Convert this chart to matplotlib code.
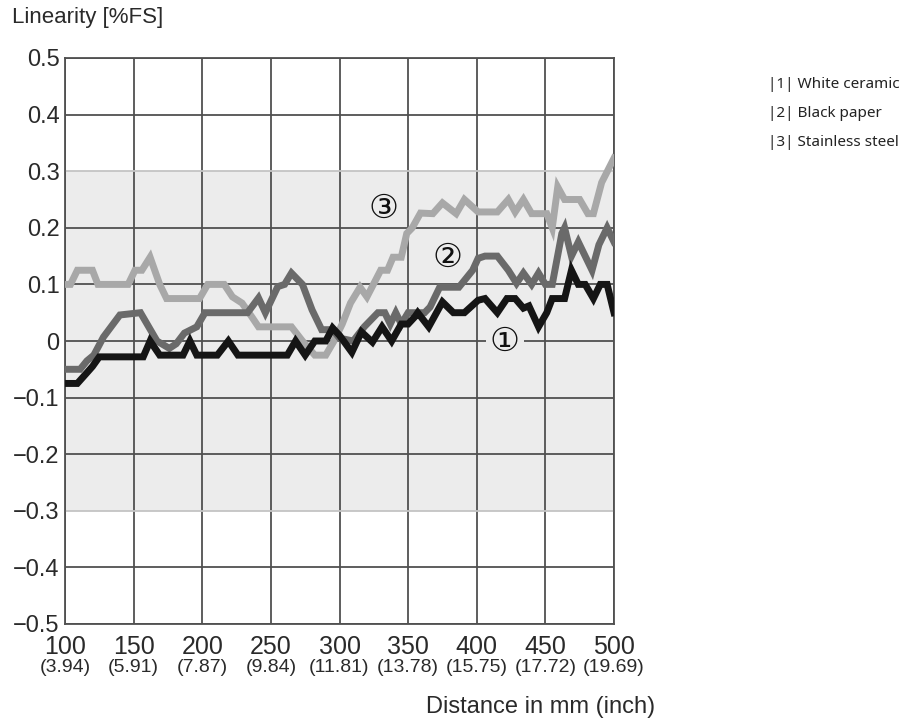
import matplotlib
matplotlib.use("Agg")
import matplotlib.pyplot as plt
import matplotlib.transforms as mtransforms

# ---- data ----
mm_ticks = [100, 150, 200, 250, 300, 350, 400, 450, 500]
inch_labels = ["(3.94)", "(5.91)", "(7.87)", "(9.84)", "(11.81)", "(13.78)",
               "(15.75)", "(17.72)", "(19.69)"]
y_ticks = [0.5, 0.4, 0.3, 0.2, 0.1, 0.0, -0.1, -0.2, -0.3, -0.4, -0.5]
y_tick_labels = ["0.5", "0.4", "0.3", "0.2", "0.1", "0", "\u22120.1", "\u22120.2",
                 "\u22120.3", "\u22120.4", "\u22120.5"]

legend_entries = ["|1| White ceramic", "|2| Black paper", "|3| Stainless steel"]

# |1| White ceramic (black)
s1_x = [100, 109, 116, 120, 125, 157, 162, 169, 186, 191, 196, 211, 219, 226,
        262, 268, 275, 282, 290, 295, 300, 309, 316, 324, 331, 338, 345, 350,
        355, 357, 365, 375, 383, 391, 401, 406, 415, 422, 428, 434, 438, 445,
        451, 455, 464, 469, 474, 479, 485, 490, 495, 500]
s1_y = [-0.075, -0.075, -0.056, -0.045, -0.028, -0.028, 0.0, -0.025, -0.025, 0.0,
        -0.025, -0.025, 0.0, -0.025, -0.025, 0.0, -0.025, 0.0, 0.0, 0.023, 0.01,
        -0.02, 0.016, -0.002, 0.025, 0.0, 0.03, 0.03, 0.043, 0.05, 0.025, 0.069,
        0.05, 0.05, 0.072, 0.075, 0.05, 0.075, 0.075, 0.058, 0.062, 0.025, 0.05,
        0.075, 0.075, 0.125, 0.1, 0.1, 0.075, 0.1, 0.1, 0.05]

# |2| Black paper (dark grey)
s2_x = [100, 111, 116, 121, 128, 140, 155, 167, 176, 181, 187, 196, 202, 233,
        241, 246, 255, 260, 265, 273, 280, 287, 295, 300, 310, 318, 328, 333,
        337, 341, 345, 350, 355, 362, 366, 373, 387, 393, 397, 401, 406, 415,
        423, 429, 434, 440, 445, 450, 455, 462, 464, 469, 474, 484, 489, 495,
        500]
s2_y = [-0.05, -0.05, -0.035, -0.025, 0.007, 0.046, 0.05, 0.0, -0.013, -0.005,
        0.014, 0.025, 0.05, 0.05, 0.076, 0.05, 0.096, 0.1, 0.12, 0.1, 0.055,
        0.02, 0.02, 0.005, 0.0, 0.025, 0.05, 0.05, 0.03, 0.05, 0.03, 0.05, 0.05,
        0.05, 0.06, 0.095, 0.095, 0.113, 0.125, 0.146, 0.15, 0.15, 0.125, 0.102,
        0.12, 0.1, 0.12, 0.1, 0.1, 0.19, 0.2, 0.15, 0.175, 0.125, 0.17, 0.2,
        0.175]

# |3| Stainless steel (light grey)
s3_x = [100, 104, 109, 120, 124, 146, 151, 156, 162, 169, 174, 198, 204, 216,
        222, 229, 236, 241, 265, 273, 282, 290, 296, 302, 308, 315, 320, 330,
        335, 339, 345, 349, 353, 359, 368, 375, 385, 391, 401, 415, 423, 428,
        434, 440, 451, 455, 459, 464, 475, 481, 485, 491, 500]
s3_y = [0.1, 0.1, 0.125, 0.125, 0.1, 0.1, 0.125, 0.125, 0.148, 0.1, 0.075, 0.075,
        0.1, 0.1, 0.078, 0.067, 0.043, 0.025, 0.025, 0.0, -0.025, -0.025, 0.0,
        0.03, 0.067, 0.095, 0.078, 0.125, 0.125, 0.148, 0.148, 0.19, 0.2, 0.226,
        0.225, 0.244, 0.225, 0.25, 0.228, 0.228, 0.25, 0.228, 0.25, 0.225, 0.225,
        0.2, 0.272, 0.25, 0.25, 0.225, 0.225, 0.28, 0.323]

# ---- figure ----
fig = plt.figure(figsize=(9.14, 7.25), dpi=100)
fig.patch.set_facecolor("white")
ax = fig.add_axes([65 / 914, 1 - 624 / 725, (614 - 65) / 914, (624 - 58) / 725])
ax.set_xlim(100, 500)
ax.set_ylim(-0.5, 0.5)

grid_c = "#505050"
band_c = "#ececec"
ax.axhspan(-0.3, 0.3, color=band_c, zorder=0, lw=0)
for v in mm_ticks:
    ax.axvline(v, color=grid_c, lw=1.3, zorder=1)
for v in y_ticks:
    c = "#c4c4c4" if abs(abs(v) - 0.3) < 1e-9 else grid_c
    ax.axhline(v, color=c, lw=1.3, zorder=1)

for sp in ax.spines.values():
    sp.set_color(grid_c)
    sp.set_linewidth(1.3)
    sp.set_zorder(1)

lw = 5.0
ax.plot(s3_x, s3_y, color="#a8a8a8", lw=lw, solid_joinstyle="miter", zorder=3)
ax.plot(s2_x, s2_y, color="#6a6a6a", lw=lw, solid_joinstyle="miter", zorder=4)
ax.plot(s1_x, s1_y, color="#151515", lw=lw, solid_joinstyle="miter", zorder=5)

tick_font = "Liberation Sans"
ax.set_yticks(y_ticks)
ax.set_yticklabels(y_tick_labels, fontsize=17, family=tick_font, color="#2a2a2a")
ax.set_xticks(mm_ticks)
ax.set_xticklabels([str(v) for v in mm_ticks], fontsize=18, family=tick_font,
                   color="#2a2a2a")
ax.tick_params(length=0)
ax.tick_params(axis="y", pad=4)
ax.tick_params(axis="x", pad=8)

trans = mtransforms.blended_transform_factory(ax.transData, ax.transAxes)
for v, lab in zip(mm_ticks, inch_labels):
    ax.text(v, -0.076, lab, transform=trans, ha="center", va="center",
            fontsize=14, family=tick_font, color="#2a2a2a")

fig.text(655 / 914, 1 - 707 / 725, "Distance in mm (inch)", ha="right", va="center",
         fontsize=17, family=tick_font, color="#2a2a2a")
fig.text(12 / 914, 1 - 18 / 725, "Linearity [%FS]", ha="left", va="center",
         fontsize=16, family=tick_font, color="#2a2a2a")

circ_fam = ["DejaVu Sans", "Noto Sans CJK JP"]
for txt, x, y in [("③", 332, 0.235), ("②", 379, 0.147), ("①", 420.5, 0.0)]:
    ax.text(x, y, txt, ha="center", va="center", fontsize=24, family=circ_fam,
            color="#111111", zorder=6,
            bbox=dict(boxstyle="square,pad=0.12", fc=band_c, ec="none") if txt == "①" else None)

for i, lab in enumerate(legend_entries):
    fig.text(768 / 914, 1 - (85 + i * 28.5) / 725, lab, ha="left", va="center",
             fontsize=11, family="Noto Sans", color="#222222")

fig.savefig("out.png", dpi=100, facecolor="white")
